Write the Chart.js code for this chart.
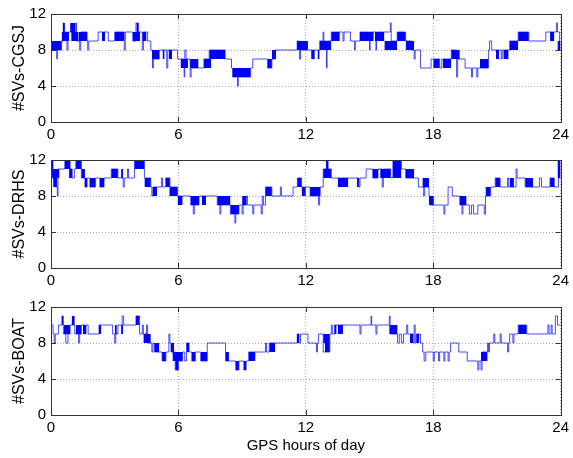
<!DOCTYPE html>
<html>
<head>
<meta charset="utf-8">
<script src="https://cdn.jsdelivr.net/npm/chart.js@4.4.1/dist/chart.umd.min.js"></script>
<style>
  html, body { margin: 0; padding: 0; background: #fff; }
  #wrap { position: relative; width: 573px; height: 458px; }
  canvas { position: absolute; left: 0; }
</style>
</head>
<body>
<div id="wrap">
  <canvas id="c1" width="573" height="146" style="top:0px"></canvas>
  <canvas id="c2" width="573" height="146" style="top:146px"></canvas>
  <canvas id="c3" width="573" height="165" style="top:293px"></canvas>
</div>
<script>
// tick labels
const hourTicks = [0, 6, 12, 18, 24];
const svTicks = [0, 4, 8, 12];

// station names
const stations = ['CGSJ', 'DRHS', 'BOAT'];

// [hour, number of SVs from that hour on]
const cgsjSteps = [
  [0,8],[0.27,7],[0.3,8],[0.5,9],[0.58,11],[0.63,10],[0.75,8],[0.8,10],[1.17,11],[1.2,9],
  [1.35,8],[1.4,10],[1.7,9],[1.73,8],[1.78,9],[2.22,10],[2.7,9],[3.0,10],[3.45,8],[3.5,10],
  [3.85,9],[4.0,11],[4.12,10],[4.3,8],[4.35,10],[4.55,9],[4.7,8],[4.78,6],[4.82,7],[5.1,8],
  [5.45,6],[5.5,8],[5.96,7],[6.27,5],[6.3,8],[6.36,7],[6.55,5],[6.6,6],[7.2,7],[7.45,8],
  [8.2,7],[8.5,6],[8.55,5],[8.78,4],[8.82,5],[9.4,6],[9.5,7],[10.2,6],[10.4,7],[10.56,8],
  [11.6,9],[11.7,7],[11.75,8],[12.35,7],[12.4,8],[12.65,9],[12.81,10],[12.85,9],[12.97,6],[13.0,9],
  [13.2,10],[13.75,9],[13.8,10],[14.1,9],[14.3,8],[14.33,9],[14.55,10],[15.0,8],[15.03,10],[15.3,8],
  [15.33,10],[15.98,11],[16.02,9],[16.3,10],[16.7,9],[17.0,8],[17.1,7],[17.15,8],[17.4,6],[17.9,7],
  [18.3,6],[18.4,7],[18.85,8],[19.1,5],[19.15,7],[19.5,6],[19.8,5],[19.85,6],[20.05,5],[20.1,6],
  [20.6,8],[20.65,9],[20.75,8],[21.2,7],[21.25,8],[21.6,9],[22.0,10],[22.5,9],[23.3,10],[23.8,11],
  [23.85,10],[23.95,8],[24,8]
];
// [from hour, to hour, low, high] for rapidly switching stretches
const cgsjBlocks = [
  [0.0,0.5,8,9],[0.5,0.85,9,10],[0.55,0.65,10,11],[0.9,1.15,10,11],[0.95,1.3,9,10],
  [1.3,1.7,9,10],[2.4,2.55,9,10],[3.0,3.45,9,10],[3.85,4.2,9,10],[4.02,4.12,10,11],
  [4.3,4.5,9,10],[4.75,5.1,7,8],[5.25,5.35,7,8],[5.55,5.7,7,8],[6.1,6.45,6,7],
  [6.55,6.95,6,7],[7.2,7.55,6,7],[7.45,8.2,7,8],[8.55,9.4,5,6],[10.2,10.4,6,7],
  [10.4,10.6,7,8],[11.57,12.1,8,9],[12.25,12.4,7,8],[12.55,12.65,7,8],[12.66,13.2,8,9],
  [13.2,13.6,9,10],[14.55,15.2,9,10],[15.25,15.7,9,10],[15.7,16.3,8,9],[16.3,16.7,9,10],
  [16.7,17.1,8,9],[18.0,18.3,6,7],[18.45,18.85,6,7],[18.85,19.25,7,8],[20.2,20.6,6,7],
  [20.95,21.1,7,8],[21.3,21.55,7,8],[21.6,22.0,8,9],[22.0,22.5,9,10],[23.5,23.7,9,10],
  [23.85,24,8,9]
];

const drhsSteps = [
  [0,12],[0.05,10],[0.2,9],[0.3,8],[0.33,11],[0.65,12],[0.9,11],[1.0,10],[1.1,11],[1.17,12],
  [1.43,10],[1.6,9],[1.7,10],[1.83,9],[2.1,10],[2.3,9],[2.5,10],[2.84,11],[3.15,10],[3.4,9],
  [3.45,10],[3.6,11],[3.65,10],[3.93,12],[4.4,10],[4.7,9],[4.75,8],[4.8,9],[5.2,10],[5.25,9],
  [5.4,10],[5.6,9],[5.96,8],[6.58,7],[6.7,6],[6.75,7],[6.97,8],[7.83,7],[7.95,6],[8.0,7],
  [8.45,6],[8.66,5],[8.7,6],[8.85,7],[9.0,6],[9.05,7],[9.2,8],[9.25,7],[9.5,6],[9.55,7],
  [9.9,6],[9.95,8],[10.0,7],[10.1,9],[10.4,8],[10.8,9],[10.85,8],[11.4,9],[11.6,10],[11.8,9],
  [12.2,8],[12.6,7],[12.65,9],[12.82,11],[13.0,12],[13.05,11],[13.2,10],[14.5,9],[14.55,10],[14.84,11],
  [15.15,10],[15.4,11],[15.6,9],[15.65,11],[16.0,10],[16.1,12],[16.5,11],[16.7,10],[17.3,9],[17.55,8],
  [17.6,9],[17.8,8],[17.85,7],[18.5,6],[18.55,7],[18.7,9],[18.9,8],[19.25,7],[19.35,6],[19.4,7],
  [19.7,6],[19.8,7],[19.9,6],[20.1,7],[20.4,6],[20.46,8],[20.7,9],[20.92,10],[21.15,9],[21.5,10],
  [21.55,9],[21.9,11],[21.95,10],[22.33,9],[23.0,10],[23.1,9],[23.5,10],[23.7,9],[23.9,12],[23.95,10],
  [24,10]
];
const drhsBlocks = [
  [0,0.12,11,12],[0.05,0.4,10,11],[0.1,0.3,9,10],[0.65,0.9,11,12],[0.85,1.0,10,11],
  [1.17,1.43,11,12],[1.43,1.6,10,11],[1.6,1.7,9,10],[1.83,2.1,9,10],[2.3,2.5,9,10],
  [2.84,3.15,10,11],[3.3,3.4,10,11],[3.93,4.4,11,12],[4.4,4.7,9,10],[4.8,5.0,8,9],
  [5.4,5.6,9,10],[5.57,5.96,8,9],[5.96,6.2,7,8],[6.58,6.97,7,8],[7.1,7.3,7,8],
  [7.83,8.45,7,8],[8.45,8.85,6,7],[9.0,9.2,7,8],[10.1,10.4,8,9],[11.6,11.8,9,10],
  [11.8,12.0,8,9],[12.2,12.7,8,9],[12.82,13.2,10,11],[12.95,13.05,11,12],[13.5,14.0,9,10],
  [14.4,14.5,9,10],[15.15,15.4,10,11],[15.5,16.0,10,11],[16.1,16.5,11,12],[16.1,16.5,10,11],
  [16.71,17.1,10,11],[17.49,17.8,9,10],[17.8,18.03,7,8],[19.25,19.57,7,8],[20.46,20.7,8,9],
  [20.92,21.15,9,10],[21.6,21.8,9,10],[22.33,22.7,9,10],[23.5,23.7,9,10],[23.85,24,10,12]
];

const boatSteps = [
  [0,10],[0.1,9],[0.15,8],[0.2,9],[0.35,10],[0.52,11],[0.58,9],[0.7,8],[0.8,9],[0.9,10],
  [1.12,9],[1.3,8],[1.35,9],[1.43,10],[1.6,9],[1.65,10],[1.75,9],[2.26,10],[2.9,9],[3.0,8],
  [3.05,9],[3.15,10],[3.35,11],[3.42,10],[4.0,11],[4.17,9],[4.3,10],[4.35,9],[4.5,10],[4.55,8],
  [4.75,7],[4.8,8],[4.87,7],[5.23,6],[5.41,7],[5.55,9],[5.6,8],[5.65,7],[5.85,5],[6.0,6],
  [6.2,7],[6.3,6],[6.38,8],[6.5,7],[6.63,6],[6.8,7],[7.05,6],[7.36,8],[8.22,6],[8.7,5],
  [8.85,6],[9.08,5],[9.19,6],[9.31,7],[10.1,8],[10.15,7],[10.28,8],[11.6,9],[11.68,8],[11.75,9],
  [12.1,8],[12.5,7],[12.55,8],[12.6,9],[12.82,7],[13.13,9],[13.2,10],[13.25,9],[13.35,10],[14.55,9],
  [14.6,10],[15.07,11],[15.1,10],[15.3,9],[15.35,10],[15.93,11],[15.97,9],[16.32,8],[16.4,9],[16.5,8],
  [16.6,9],[16.75,10],[16.8,9],[17.05,8],[17.1,10],[17.15,8],[17.2,9],[17.4,8],[17.5,7],[17.57,6],
  [17.65,7],[18.0,6],[18.05,7],[18.25,6],[18.3,7],[18.5,6],[18.55,7],[18.7,6],[18.75,7],[18.82,8],
  [19.2,7],[19.6,6],[20.1,5],[20.15,6],[20.25,5],[20.3,7],[20.56,8],[20.6,7],[20.65,8],[20.85,9],
  [20.9,8],[21.15,9],[21.2,8],[21.5,7],[21.55,8],[21.6,9],[21.75,8],[21.8,9],[22.0,10],[22.4,9],
  [23.4,10],[23.45,9],[23.55,10],[23.6,9],[23.75,11],[23.85,10],[24,10]
];
const boatBlocks = [
  [0.5,0.58,10,11],[0.6,0.9,9,10],[0.97,1.12,10,11],[1.17,1.43,9,10],[1.5,1.65,9,10],
  [2.26,2.37,9,10],[3.0,3.1,9,10],[3.3,3.4,9,10],[4.0,4.17,10,11],[4.35,4.7,8,9],
  [4.87,5.1,7,8],[5.23,5.41,6,7],[5.65,5.8,7,8],[5.72,6.2,6,7],[5.85,6.0,5,6],
  [6.38,6.5,7,8],[6.63,6.8,6,7],[7.05,7.36,6,7],[8.22,8.38,6,7],[8.7,8.85,5,6],
  [9.08,9.19,5,6],[9.31,9.63,6,7],[10.28,10.56,7,8],[11.57,11.68,8,9],[12.82,13.13,8,9],
  [12.9,13.13,7,8],[13.35,13.45,9,10],[13.5,13.75,9,10],[15.93,16.32,9,10],[16.9,17.05,8,9],
  [17.2,17.35,8,9],[20.25,20.56,6,7],[22.0,22.4,9,10]
];

Chart.defaults.font.family = '"Liberation Sans", Arial, sans-serif';
Chart.defaults.color = '#000';

// box round the plot with small inward tick marks
const boxPlugin = {
  id: 'box',
  afterDraw(chart) {
    const { ctx, chartArea: a, scales } = chart;
    ctx.save();
    ctx.strokeStyle = '#333';
    ctx.lineWidth = 1;
    ctx.strokeRect(Math.round(a.left) + 0.5, Math.round(a.top) + 0.5,
      Math.round(a.right - a.left), Math.round(a.bottom - a.top));
    ctx.beginPath();
    scales.x.ticks.forEach(t => {
      const px = Math.round(scales.x.getPixelForValue(t.value)) + 0.5;
      ctx.moveTo(px, a.bottom); ctx.lineTo(px, a.bottom - 5);
      ctx.moveTo(px, a.top); ctx.lineTo(px, a.top + 5);
    });
    scales.y.ticks.forEach(t => {
      const py = Math.round(scales.y.getPixelForValue(t.value)) + 0.5;
      ctx.moveTo(a.left, py); ctx.lineTo(a.left + 5, py);
      ctx.moveTo(a.right, py); ctx.lineTo(a.right - 5, py);
    });
    ctx.stroke();
    ctx.restore();
  }
};

function makePanel(id, name, steps, blocks, last) {
  const sets = blocks.map(b => ({
    data: [{ x: b[0], y: b[3] }, { x: b[1], y: b[3] }],
    borderColor: '#0000ff',
    borderWidth: 0,
    pointRadius: 0,
    backgroundColor: '#0000ff',
    fill: { value: b[2] }
  }));
  sets.push({
    data: steps.map(s => ({ x: s[0], y: s[1] })),
    stepped: true,
    borderColor: 'rgba(0,0,255,0.7)',
    borderWidth: 1,
    pointRadius: 0,
    fill: false
  });

  new Chart(document.getElementById(id), {
    type: 'line',
    data: { datasets: sets },
    plugins: [boxPlugin],
    options: {
      responsive: false,
      animation: false,
      layout: { padding: { top: 12, right: 9, left: 0, bottom: 0 } },
      plugins: { legend: { display: false }, tooltip: { enabled: false } },
      scales: {
        x: {
          type: 'linear',
          min: 0, max: 24,
          afterBuildTicks: s => { s.ticks = hourTicks.map(v => ({ value: v })); },
          afterFit: s => { s.height = last ? 43 : 24; },
          ticks: { font: { size: 15 }, padding: 4, maxRotation: 0 },
          grid: { color: '#aaa', drawTicks: false },
          border: { display: false, dash: [1, 2] },
          title: {
            display: last,
            text: 'GPS hours of day',
            font: { size: 15 },
            padding: { top: 0, bottom: 3 }
          }
        },
        y: {
          min: 0, max: 12,
          afterBuildTicks: s => { s.ticks = svTicks.map(v => ({ value: v })); },
          afterFit: s => { s.width = 51; },
          ticks: { font: { size: 15 }, padding: 5 },
          grid: { color: '#aaa', drawTicks: false },
          border: { display: false, dash: [1, 2] },
          title: {
            display: true,
            text: '#SVs-' + name,
            font: { size: 16 },
            padding: { top: 10, bottom: 0 }
          }
        }
      }
    }
  });
}

makePanel('c1', stations[0], cgsjSteps, cgsjBlocks, false);
makePanel('c2', stations[1], drhsSteps, drhsBlocks, false);
makePanel('c3', stations[2], boatSteps, boatBlocks, true);
</script>
</body>
</html>
